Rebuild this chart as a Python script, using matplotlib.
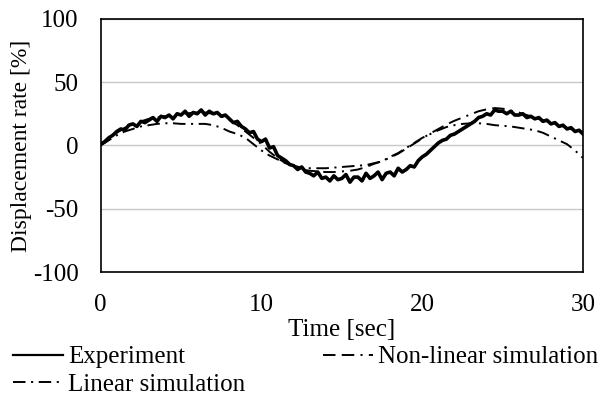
import matplotlib
matplotlib.use('Agg')
import matplotlib.pyplot as plt
import numpy as np

plt.rcParams['font.family'] = ['Liberation Serif', 'DejaVu Serif']
plt.rcParams['lines.scale_dashes'] = False
plt.rcParams['axes.unicode_minus'] = False

t_exp = np.arange(0, 30.01, 0.25)
experiment = [
    1, 3, 6, 8, 11, 13, 12, 16, 17, 15, 19, 18, 20, 22, 19, 23,
    22, 24, 21, 25, 24, 27, 23, 26, 25, 28, 24, 27, 25, 26, 23, 24,
    21, 18, 19, 15, 13, 10, 11, 5, 3, 5, -2, -1, -8, -10, -12, -15,
    -16, -19, -17, -21, -22, -24, -21, -26, -25, -28, -24, -27, -26, -23, -29, -25,
    -25, -28, -22, -26, -24, -21, -27, -22, -21, -24, -18, -21, -19, -16, -17, -12,
    -9, -7, -4, -1, 2, 4, 5, 8, 9, 11, 13, 15, 17, 19, 22, 23,
    25, 24, 28, 27, 27, 25, 27, 24, 24, 25, 22, 23, 21, 22, 19, 20,
    17, 18, 15, 16, 13, 14, 11, 12, 9,
]

# Simulations, sampled every 0.5 s
t_sim = np.arange(0, 30.01, 0.5)
nonlinear = [
    0, 5, 10, 14, 17, 19, 21, 22, 23, 24, 25, 25.5, 26, 26, 25, 23,
    20, 16, 11, 6, 1, -5, -10, -14, -17, -19, -20, -20.5, -21, -21, -20.5, -20,
    -19, -17, -14.5, -12.5, -9.5, -6.5, -2.5, 1.5, 5.5, 9.5, 13, 16.5, 19.5, 22,
    24.5, 27, 28.5, 29.5, 29, 27.5, 26, 24, 22, 20, 18, 16, 14, 12, 10,
]
linear = [
    0, 4, 8, 11, 13, 15, 16, 17, 17.5, 17.5, 17, 17, 17, 17, 16, 14,
    11, 9, 6, 1, -4, -8, -11, -14, -16, -17.5, -18, -18, -18, -17.5, -17, -16.5,
    -16, -15.5, -14, -12.5, -9, -6, -2, 2, 6, 9, 12, 14.5, 16, 17,
    17.5, 17.5, 17, 16, 15.5, 15, 14, 13, 12, 10, 7, 4, 1, -4, -10,
]

fig = plt.figure(figsize=(6.03, 3.99), dpi=100)
ax = fig.add_axes([0.167, 0.318, 0.8, 0.635])

ax.plot(t_exp, experiment, color='black', lw=2.6, label='Experiment')
ax.plot(t_sim, linear, color='black', lw=1.4, linestyle=(0, (9, 4, 1.5, 4)),
        label='Linear simulation')
ax.plot(t_sim, nonlinear, color='black', lw=1.4, linestyle=(0, (9, 4.5, 9, 4.5, 1.5, 4.5)),
        label='Non-linear simulation')

ax.set_xlim(0, 30)
ax.set_ylim(-100, 100)
ax.set_xticks([0, 10, 20, 30])
ax.set_yticks([-100, -50, 0, 50, 100])
ax.yaxis.grid(True, color='#c8c8c8', lw=1)
ax.set_axisbelow(True)
ax.tick_params(length=0, labelsize=18, pad=16)
for s in ax.spines.values():
    s.set_linewidth(1.2)

ax.set_xlabel('Time [sec]', fontsize=18, labelpad=2)
ax.set_ylabel('Displacement rate [%]', fontsize=17)
ax.yaxis.set_label_coords(-0.142, 0.5)

h, l = ax.get_legend_handles_labels()
leg = fig.legend(h, l, loc='upper left', bbox_to_anchor=(0.022, 0.133), ncol=2,
                 frameon=False, fontsize=18, handlelength=2.0, handletextpad=0.2,
                 columnspacing=3.1, labelspacing=0.2, borderpad=0, borderaxespad=0)
leg.legend_handles[0].set_linewidth(1.6)

fig.savefig('out.png', dpi=100)
